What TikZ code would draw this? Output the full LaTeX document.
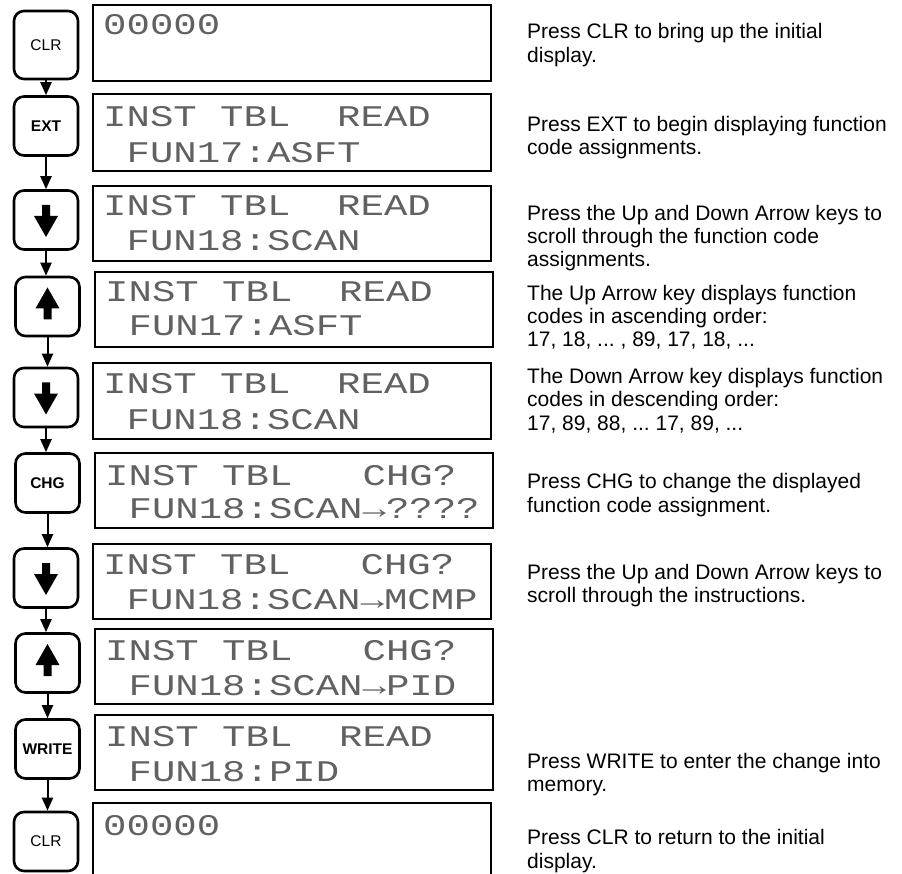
\documentclass[tikz,border=0pt]{standalone}
\usepackage{fontspec}
\setmainfont{Liberation Sans}
\newfontfamily\lcdfont[FakeStretch=1.3]{Liberation Mono}
\usetikzlibrary{arrows.meta}
\frenchspacing
\begin{document}
\begin{tikzpicture}[x=1pt,y=-1pt,
  keybox/.style={draw, line width=2.6pt, rounded corners=10pt, minimum width=64pt, minimum height=59pt, inner sep=0pt, font=\fontsize{15.5}{18}\selectfont},
  lcd/.style={draw, line width=1.3pt, inner sep=0pt},
  lcdtext/.style={anchor=base west, inner sep=0pt, font=\lcdfont\fontsize{30}{36}\selectfont, text=black!62},
  desc/.style={anchor=north west, inner sep=0pt, align=left, font=\fontsize{21}{23.3}\selectfont, execute at begin node={\rule{0pt}{16pt}}},
  flow/.style={line width=2pt, -{Triangle[width=11pt,length=13pt]}},
  glyph/.style={fill=black},
]
\useasboundingbox (0,0) rectangle (902,874);

% keys
\node[keybox, minimum height=68pt] (k1) at (46,45) {CLR};
\node[keybox] (k2) at (46,126) {\bfseries EXT};
\node[keybox] (k3) at (46,220) {};
\node[keybox] (k4) at (47.5,306.5) {};
\node[keybox] (k5) at (46,397.5) {};
\node[keybox] (k6) at (47.5,483) {\bfseries CHG};
\node[keybox] (k7) at (46,578) {};
\node[keybox] (k8) at (47.5,663) {};
\node[keybox] (k9) at (47.5,749) {\bfseries WRITE};
\node[keybox] (k10) at (46,841.5) {CLR};

% arrow glyphs on keys
\foreach \k in {k3,k5,k7}{
  \fill[glyph, shift={(\k.center)}] (-4,-15) -- (4,-15) -- (4,-4) -- (12,-4) -- (0,17) -- (-12,-4) -- (-4,-4) -- cycle;
}
\foreach \k in {k4,k8}{
  \fill[glyph, shift={(\k.center)}] (-4,13) -- (4,13) -- (4,2) -- (12,2) -- (0,-19) -- (-12,2) -- (-4,2) -- cycle;
}

% connectors
\foreach \a/\b in {k1/k2,k2/k3,k3/k4,k4/k5,k5/k6,k6/k7,k7/k8,k8/k9,k9/k10}{
  \draw[flow] (\a.south) -- (\a.south |- \b.north);
}

% displays
\node[lcd, minimum width=398pt, minimum height=76pt] (d1) at (292,43) {};
\node[lcd, minimum width=398pt, minimum height=77pt] (d2) at (292,132.5) {};
\node[lcd, minimum width=398pt, minimum height=75pt] (d3) at (292,223.5) {};
\node[lcd, minimum width=398pt, minimum height=75pt] (d4) at (294,309.5) {};
\node[lcd, minimum width=398pt, minimum height=76pt] (d5) at (292,401) {};
\node[lcd, minimum width=398pt, minimum height=75pt] (d6) at (294,490.5) {};
\node[lcd, minimum width=398pt, minimum height=75pt] (d7) at (292,581.5) {};
\node[lcd, minimum width=398pt, minimum height=75pt] (d8) at (294,666.5) {};
\node[lcd, minimum width=398pt, minimum height=75pt] (d9) at (294,752.5) {};
\node[lcd, minimum width=398pt, minimum height=76pt] (d10) at (292,841) {};

% display texts
\node[lcdtext] (d1a) at (103,35) {00000};
\node[lcdtext] (d2a) at (103,127) {INST~TBL~~READ};
\node[lcdtext] (d2b) at (103,163) {~FUN17:ASFT};
\node[lcdtext] (d3a) at (103,216) {INST~TBL~~READ};
\node[lcdtext] (d3b) at (103,251) {~FUN18:SCAN};
\node[lcdtext] (d4a) at (105,302) {INST~TBL~~READ};
\node[lcdtext] (d4b) at (105,336) {~FUN17:ASFT};
\node[lcdtext] (d5a) at (103,393) {INST~TBL~~READ};
\node[lcdtext] (d5b) at (103,429) {~FUN18:SCAN};
\node[lcdtext] (d6a) at (105,485) {INST~TBL~~~CHG?};
\node[lcdtext] (d6b) at (105,518) {~FUN18:SCAN→????};
\node[lcdtext] (d7a) at (103,574) {INST~TBL~~~CHG?};
\node[lcdtext] (d7b) at (103,609) {~FUN18:SCAN→MCMP};
\node[lcdtext] (d8a) at (105,660) {INST~TBL~~~CHG?};
\node[lcdtext] (d8b) at (105,695) {~FUN18:SCAN→PID};
\node[lcdtext] (d9a) at (105,746) {INST~TBL~~READ};
\node[lcdtext] (d9b) at (105,781) {~FUN18:PID};
\node[lcdtext] (d10a) at (103,835) {00000};

% descriptions
\node[desc] (t1) at (527,23.5) {Press CLR to bring up the initial\\display.};
\node[desc] (t2) at (527,116) {Press EXT to begin displaying function\\code assignments.};
\node[desc] (t3) at (527,204.7) {Press the Up and Down Arrow keys to\\scroll through the function code\\assignments.};
\node[desc] (t4) at (527,284.7) {The Up Arrow key displays function\\codes in ascending order:\\17, 18, ... , 89, 17, 18, ...};
\node[desc] (t5) at (527,368) {The Down Arrow key displays function\\codes in descending order:\\17, 89, 88, ... 17, 89, ...};
\node[desc] (t6) at (527,473.3) {Press CHG to change the displayed\\function code assignment.};
\node[desc] (t7) at (527,564) {Press the Up and Down Arrow keys to\\scroll through the instructions.};
\node[desc] (t8) at (527,753) {Press WRITE to enter the change into\\memory.};
\node[desc] (t9) at (527,829.5) {Press CLR to return to the initial\\display.};
\end{tikzpicture}
\end{document}
